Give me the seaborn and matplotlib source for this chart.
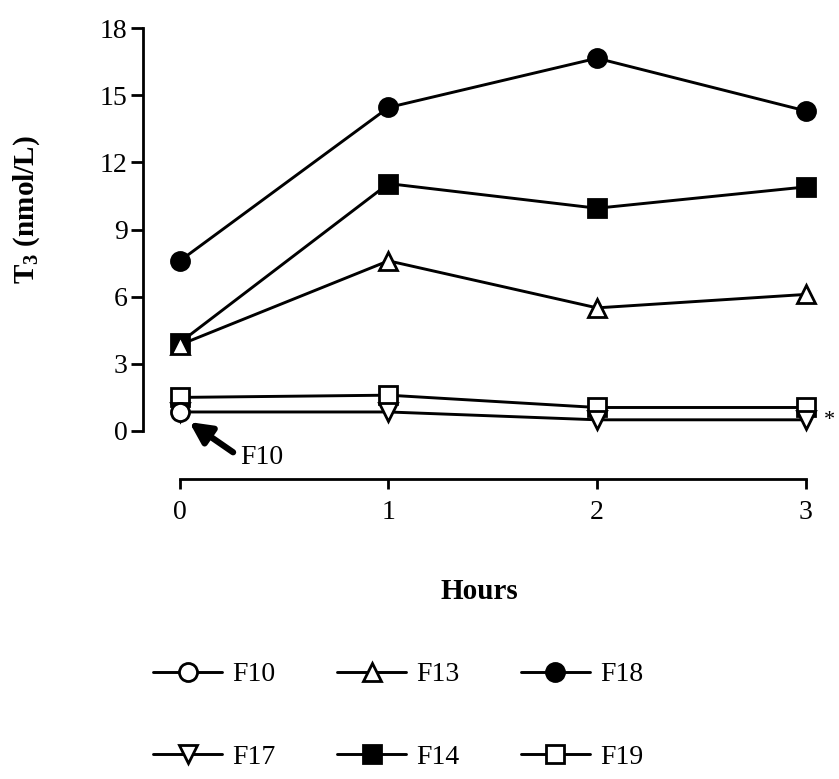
import pandas as pd
import matplotlib
matplotlib.use('Agg')
import matplotlib.pyplot as plt
import seaborn as sns

hours = [0, 1, 2, 3]
f10 = [0.85]
f13 = [3.85, 7.6, 5.5, 6.1]
f18 = [7.6, 14.45, 16.65, 14.3]
f17 = [0.85, 0.85, 0.5, 0.5]
f14 = [3.95, 11.05, 9.95, 10.9]
f19 = [1.5, 1.6, 1.05, 1.05]

series = {
    'F10': (hours[:1], f10, 'o', 'white'),
    'F13': (hours, f13, '^', 'white'),
    'F18': (hours, f18, 'o', 'black'),
    'F17': (hours, f17, 'v', 'white'),
    'F14': (hours, f14, 's', 'black'),
    'F19': (hours, f19, 's', 'white'),
}

sns.set_style('ticks')
plt.rcParams['font.family'] = ['Liberation Serif', 'DejaVu Serif']
plt.rcParams['mathtext.fontset'] = 'custom'
plt.rcParams['mathtext.rm'] = 'Liberation Serif'
plt.rcParams['mathtext.bf'] = 'Liberation Serif:bold'
for k in ['text.color', 'axes.labelcolor', 'xtick.color', 'ytick.color']:
    plt.rcParams[k] = 'black'

fig = plt.figure(figsize=(8.39, 7.79), dpi=100)
ax = fig.add_axes([143 / 839, 1 - 431 / 779, 673 / 839, 403 / 779])

handles = {}
# draw lower series last so they sit above
for name in ['F18', 'F14', 'F13', 'F19', 'F17', 'F10']:
    x, y, m, fc = series[name]
    df = pd.DataFrame({'Hours': x, 'T3': y})
    sns.lineplot(data=df, x='Hours', y='T3', ax=ax, color='black', lw=2.1,
                 marker=m, markersize=13,
                 markerfacecolor=fc, markeredgecolor='black',
                 markeredgewidth=2.0, clip_on=False, label=name)
    handles[name] = ax.get_lines()[-1]

ax.set_xlim(-0.177, 3.05)
ax.set_ylim(0, 18)
ax.set_yticks([0, 3, 6, 9, 12, 15, 18])
ax.set_xticks([0, 1, 2, 3])
ax.spines['top'].set_visible(False)
ax.spines['right'].set_visible(False)
ax.spines['left'].set_bounds(0, 18)
ax.spines['bottom'].set_bounds(0, 3)
ax.spines['bottom'].set_position(('outward', 34.5))
for s in ['left', 'bottom']:
    ax.spines[s].set_linewidth(2.0)
    ax.spines[s].set_color('black')
ax.tick_params(axis='both', labelsize=20, width=2.0, colors='black')
ax.tick_params(axis='y', length=9, pad=2)
ax.tick_params(axis='x', length=7, pad=8)

ax.set_xlabel('Hours', fontsize=21, fontweight='bold', labelpad=38)
ax.set_ylabel(r'$\mathbf{T_3}$ (nmol/L)', fontsize=21, fontweight='bold')
ax.yaxis.set_label_coords(-0.15, 0.548)

# arrow pointing at F10
ax.annotate('', xy=(0.045, 0.4), xytext=(0.255, -0.95), annotation_clip=False,
            arrowprops=dict(arrowstyle='-|>', lw=4.5, color='black',
                            mutation_scale=32, shrinkA=0, shrinkB=0))
ax.text(0.29, -1.2, 'F10', fontsize=20, ha='left', va='center')
ax.text(3.09, 0.45, '*', fontsize=16, ha='left', va='center')

ax.get_legend().remove()
order = ['F10', 'F17', 'F13', 'F14', 'F18', 'F19']
fig.legend([handles[n] for n in order], order, loc='upper left',
           bbox_to_anchor=(153 / 839, 1 - 662 / 779), ncol=3, frameon=False,
           fontsize=20, handlelength=2.5, columnspacing=2.2, labelspacing=2.05,
           handletextpad=0.36, borderpad=0, borderaxespad=0)

fig.savefig('out.png', dpi=100, facecolor='white')
